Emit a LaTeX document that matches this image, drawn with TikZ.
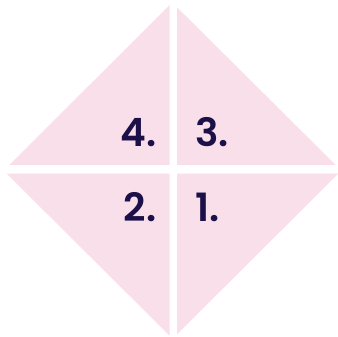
\documentclass[tikz,border=0pt]{standalone}
\usepackage{fontspec}
\newfontfamily\numfont{Poppins SemiBold}
\definecolor{pinkfill}{HTML}{F9DFEA}
\definecolor{navy}{HTML}{1B1048}
\begin{document}
\begin{tikzpicture}[x=1pt,y=-1pt,
  tri/.style={fill=pinkfill,draw=none},
  num/.style={text=navy,font=\numfont\fontsize{39}{39}\selectfont,inner sep=0pt}]
\useasboundingbox (0,0) rectangle (338,337);
\fill[white] (0,0) rectangle (338,337);
% top-left (4)
\path[tri] (169.7,5) -- (169.7,165) -- (9.3,165) -- cycle;
% top-right (3)
\path[tri] (177,7.3) -- (177,165) -- (335.7,165) -- cycle;
% bottom-left (2)
\path[tri] (6.7,173.7) -- (169.7,173.7) -- (169.7,335.7) -- cycle;
% bottom-right (1)
\path[tri] (177,173.7) -- (338.3,173.7) -- (177,334.3) -- cycle;
\node[num,anchor=base east] (n4) at (156.5,146.7) {4.};
\node[num,anchor=base west] (n3) at (195,146.7) {3.};
\node[num,anchor=base east] (n2) at (156.5,221.7) {2.};
\node[num,anchor=base west] (n1) at (195,221.7) {1.};
\end{tikzpicture}
\end{document}
